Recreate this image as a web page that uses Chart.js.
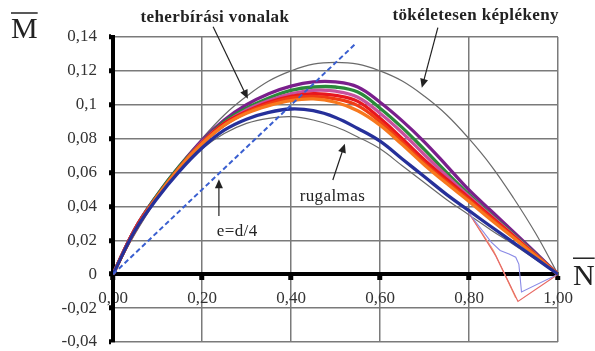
<!DOCTYPE html>
<html>
<head>
<meta charset="utf-8">
<script src="https://cdn.jsdelivr.net/npm/chart.js@4.4.1/dist/chart.umd.min.js"></script>
<style>
  body { margin: 0; background: #fff; }
  canvas { display: block; }
</style>
</head>
<body>
<canvas id="chartMN" width="595" height="351"></canvas>
<script>
// N values shared by all curves
const nGrid = [0, 0.05, 0.1, 0.15, 0.2, 0.25, 0.3, 0.35, 0.4, 0.45, 0.5, 0.55, 0.6, 0.65, 0.7, 0.75, 0.8, 0.85, 0.9, 0.95, 1.0];

// teherbírási vonalak (thick)
const purpleM = [0, 0.027, 0.047, 0.064, 0.079, 0.091, 0.1, 0.1065, 0.111, 0.1135, 0.1135, 0.1105, 0.1015, 0.0905, 0.078, 0.064, 0.0497, 0.0373, 0.025, 0.0125, 0];
const greenM = [0, 0.027, 0.047, 0.064, 0.078, 0.09, 0.098, 0.104, 0.1085, 0.1105, 0.1105, 0.1075, 0.098, 0.0865, 0.0735, 0.06, 0.047, 0.035, 0.0235, 0.0118, 0];
const magentaM = [0, 0.027, 0.046, 0.063, 0.078, 0.089, 0.097, 0.1025, 0.1065, 0.1085, 0.108, 0.1045, 0.095, 0.0835, 0.0705, 0.058, 0.046, 0.0345, 0.023, 0.0115, 0];
const redM = [0, 0.027, 0.046, 0.063, 0.0775, 0.089, 0.096, 0.1015, 0.105, 0.1065, 0.1055, 0.102, 0.092, 0.08, 0.0675, 0.056, 0.045, 0.0337, 0.0225, 0.0112, 0];
const redOrangeM = [0, 0.026, 0.046, 0.063, 0.077, 0.088, 0.0955, 0.1005, 0.104, 0.105, 0.1035, 0.0995, 0.09, 0.078, 0.0655, 0.0545, 0.044, 0.033, 0.022, 0.011, 0];
const orangeM = [0, 0.026, 0.046, 0.063, 0.077, 0.088, 0.095, 0.0995, 0.1025, 0.1035, 0.1015, 0.0965, 0.088, 0.0765, 0.0645, 0.0535, 0.043, 0.032, 0.0215, 0.0107, 0];
const blueM = [0, 0.026, 0.045, 0.061, 0.0745, 0.085, 0.0915, 0.0955, 0.0975, 0.0965, 0.0925, 0.086, 0.0785, 0.068, 0.0575, 0.047, 0.0375, 0.028, 0.0187, 0.0093, 0];

// thin reference curves
const plasticM = [0, 0.024, 0.045, 0.064, 0.08, 0.094, 0.105, 0.114, 0.12, 0.124, 0.125, 0.124, 0.12, 0.114, 0.105, 0.094, 0.08, 0.064, 0.045, 0.024, 0];
const elasticM = [0, 0.026, 0.045, 0.061, 0.074, 0.083, 0.089, 0.092, 0.093, 0.091, 0.087, 0.081, 0.074, 0.064, 0.054, 0.044, 0.035, 0.026, 0.0175, 0.0087, 0];

// thin lines dipping below zero near N = 0.9
const dipRedN = [0.8, 0.86, 0.91, 1.0];
const dipRedM = [0.036, 0.011, -0.016, 0];
const dipOrangeN = [0.8, 0.855, 0.905];
const dipOrangeM = [0.036, 0.014, -0.014];
const dipPinkN = [0.8, 0.85, 0.895];
const dipPinkM = [0.036, 0.016, -0.008];
const dipBlueN = [0.8, 0.85, 0.87, 0.89, 0.905, 0.912, 0.918, 1.0];
const dipBlueM = [0.036, 0.019, 0.014, 0.012, 0.010, 0.006, -0.0105, 0];

// e = d/4 line
const eccN = [0, 0.545];
const eccM = [0, 0.136];

const xTickValues = [0, 0.2, 0.4, 0.6, 0.8, 1.0];
const xTickLabels = ["0,00", "0,20", "0,40", "0,60", "0,80", "1,00"];
const yTickValues = [-0.04, -0.02, 0, 0.02, 0.04, 0.06, 0.08, 0.1, 0.12, 0.14];
const yTickLabels = ["-0,04", "-0,02", "0", "0,02", "0,04", "0,06", "0,08", "0,1", "0,12", "0,14"];

const pts = (xs, ys) => xs.map((x, i) => ({ x: x, y: ys[i] }));
const serif = "'Liberation Serif', 'DejaVu Serif', serif";

function thick(data, color, order) {
    return { data: pts(nGrid, data), borderColor: color, borderWidth: 3.3, pointRadius: 0,
             tension: 0.4, order: order };
}
function thin(xs, ys, color, width, order) {
    return { data: pts(xs, ys), borderColor: color, borderWidth: width, pointRadius: 0,
             tension: 0, order: order };
}

// text + arrows drawn in data coordinates
const notes = [
    { text: "teherbírási vonalak", n: 0.229, m: 0.1515, bold: true, from: [0.225, 0.146], to: [0.303, 0.1035] },
    { text: "tökéletesen képlékeny", n: 0.815, m: 0.1525, bold: true, from: [0.73, 0.1455], to: [0.694, 0.110] },
    { text: "rugalmas", n: 0.493, m: 0.046, bold: false, from: [0.494, 0.0556], to: [0.521, 0.077] },
    { text: "e=d/4", n: 0.279, m: 0.0249, bold: false, from: [0.238, 0.0343], to: [0.238, 0.0560] },
];

function arrow(ctx, x1, y1, x2, y2) {
    const a = Math.atan2(y2 - y1, x2 - x1);
    ctx.beginPath();
    ctx.moveTo(x1, y1);
    ctx.lineTo(x2 - 6 * Math.cos(a), y2 - 6 * Math.sin(a));
    ctx.stroke();
    ctx.beginPath();
    ctx.moveTo(x2, y2);
    ctx.lineTo(x2 - 9 * Math.cos(a) + 4 * Math.sin(a), y2 - 9 * Math.sin(a) - 4 * Math.cos(a));
    ctx.lineTo(x2 - 9 * Math.cos(a) - 4 * Math.sin(a), y2 - 9 * Math.sin(a) + 4 * Math.cos(a));
    ctx.closePath();
    ctx.fill();
}

const notesPlugin = {
    id: "notes",
    afterDraw(chart) {
        const ctx = chart.ctx;
        const xs = chart.scales.x, ys = chart.scales.y;
        const area = chart.chartArea;
        ctx.save();
        ctx.fillStyle = "#222";
        ctx.strokeStyle = "#222";
        ctx.lineWidth = 1.2;
        ctx.textAlign = "center";
        ctx.textBaseline = "middle";
        notes.forEach(nt => {
            ctx.font = (nt.bold ? "bold " : "") + "17px " + serif;
            ctx.letterSpacing = "0.4px";
            ctx.fillText(nt.text, xs.getPixelForValue(nt.n), ys.getPixelForValue(nt.m));
            arrow(ctx, xs.getPixelForValue(nt.from[0]), ys.getPixelForValue(nt.from[1]),
                  xs.getPixelForValue(nt.to[0]), ys.getPixelForValue(nt.to[1]));
        });
        ctx.letterSpacing = "0px";
        // axis titles with overbar
        ctx.font = "30px " + serif;
        ctx.textAlign = "left";
        ctx.textBaseline = "alphabetic";
        ctx.fillText("M", area.left - 102, area.top + 1);
        let w = ctx.measureText("M").width;
        ctx.lineWidth = 1.5;
        ctx.beginPath();
        ctx.moveTo(area.left - 102, area.top - 24);
        ctx.lineTo(area.left - 102 + w, area.top - 24);
        ctx.stroke();
        const y0 = ys.getPixelForValue(0);
        ctx.fillText("N", area.right + 15, y0 + 11);
        w = ctx.measureText("N").width;
        ctx.beginPath();
        ctx.moveTo(area.right + 15, y0 - 16);
        ctx.lineTo(area.right + 15 + w, y0 - 16);
        ctx.stroke();
        ctx.restore();
    }
};

const chartMN = new Chart("chartMN", {
    type: "line",
    data: {
    datasets: [
        Object.assign(thin(eccN, eccM, "#3a5fd0", 2, 0), { borderDash: [5, 3] }),
        thick(blueM, "#26309a", 1),
        thick(orangeM, "#f7781e", 2),
        thick(redOrangeM, "#f03c14", 3),
        thick(redM, "#e8161e", 4),
        thick(magentaM, "#c8509e", 5),
        thick(greenM, "#2a8a3a", 6),
        thick(purpleM, "#7a1f8c", 7),
        thin(dipBlueN, dipBlueM, "#8a8ae6", 1.1, 8),
        thin(dipRedN, dipRedM, "#e86a64", 1.1, 8),
        thin(dipOrangeN, dipOrangeM, "#f5a878", 1.1, 8),
        thin(dipPinkN, dipPinkM, "#e4aadc", 1.1, 8),
        Object.assign(thin(nGrid, elasticM, "#6a6a6a", 1.2, 9), { tension: 0.4 }),
        Object.assign(thin(nGrid, plasticM, "#6a6a6a", 1.2, 9), { tension: 0.4 }),
    ],
    },
    options: {
    responsive: false,
    animation: false,
    layout: {
        padding: { top: 37, right: 37, bottom: 9, left: 0 },
    },
    plugins: {
        legend: { display: false },
        tooltip: { enabled: false },
    },
    scales: {
        x: {
        type: "linear",
        min: 0,
        max: 1,
        position: { y: 0 },
        afterBuildTicks: scale => { scale.ticks = xTickValues.map(v => ({ value: v })); },
        afterFit: scale => { scale.paddingLeft = 0; scale.paddingRight = 0; scale.height = 0; },
        grid: {
            color: "#7a7a7a",
            lineWidth: 1.5,
            tickColor: "#000",
            tickLength: 4,
            tickWidth: 5,
        },
        border: { color: "#000", width: 4 },
        ticks: {
            color: "#333",
            padding: 10,
            font: { family: serif, size: 17 },
            callback: (v, i) => xTickLabels[i],
        },
        },
        y: {
        type: "linear",
        min: -0.04,
        max: 0.14,
        afterBuildTicks: scale => { scale.ticks = yTickValues.map(v => ({ value: v })); },
        afterFit: scale => { scale.width = 113; scale.paddingTop = 0; scale.paddingBottom = 0; },
        grid: {
            color: "#7a7a7a",
            lineWidth: 1.5,
            tickColor: "#000",
            tickLength: 4,
            tickWidth: 5,
        },
        border: { color: "#000", width: 4 },
        ticks: {
            color: "#333",
            padding: 12,
            font: { family: serif, size: 17 },
            callback: (v, i) => yTickLabels[i],
        },
        },
    },
    },
    plugins: [notesPlugin],
});
</script>
</body>
</html>
